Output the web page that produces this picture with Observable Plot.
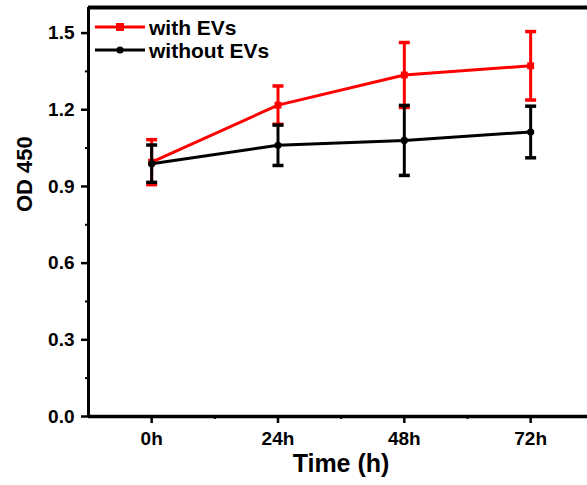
<!DOCTYPE html>
<html><head><meta charset="utf-8">
<script src="https://cdn.jsdelivr.net/npm/d3@7"></script>
<script src="https://cdn.jsdelivr.net/npm/@observablehq/plot@0.6"></script>
<style>
body{margin:0;background:#fff;}
#chart{position:relative;width:587px;height:485px;font-family:"Liberation Sans",Arial,sans-serif;color:#000;}
.legend{position:absolute;left:95px;font-weight:bold;font-size:21px;display:flex;align-items:center;line-height:1;}
.legend svg{display:block;margin-right:4px;}
</style></head><body><div id="chart"></div>
<script>
const times = [0, 24, 48, 72];
const timeLabels = ["0h", "24h", "48h", "72h"];
const withEVs = [0.995, 1.218, 1.336, 1.372];
const withEVsErr = [0.088, 0.075, 0.127, 0.134];
const withoutEVs = [0.989, 1.061, 1.080, 1.113];
const withoutEVsErr = [0.073, 0.079, 0.137, 0.101];
const seriesNames = ["with EVs", "without EVs"];
const colors = ["#ff0000", "#000000"];
const yTicks = [0, 0.3, 0.6, 0.9, 1.2, 1.5];
const yMinor = [0.15, 0.45, 0.75, 1.05, 1.35];
const xMinor = [12, 36, 60];
const xDomain = [-12, 82.8];
const yDomain = [0, 1.6];

const rows = (vals, errs, s) => times.map((t, i) => ({t, v: vals[i], lo: vals[i] - errs[i], hi: vals[i] + errs[i], s}));
const red = rows(withEVs, withEVsErr, seriesNames[0]);
const black = rows(withoutEVs, withoutEVsErr, seriesNames[1]);

const cap = {draw(ctx, size) { const r = Math.sqrt(size / Math.PI); ctx.moveTo(-r, 0); ctx.lineTo(r, 0); }};

function seriesMarks(data, color, symbol, r) {
  return [
    Plot.ruleX(data, {x: "t", y1: "lo", y2: "hi", stroke: color, strokeWidth: 3}),
    Plot.dot(data, {x: "t", y: "hi", symbol: cap, r: 5.5, stroke: color, strokeWidth: 3.5, fill: "none"}),
    Plot.dot(data, {x: "t", y: "lo", symbol: cap, r: 5.5, stroke: color, strokeWidth: 3.5, fill: "none"}),
    Plot.line(data, {x: "t", y: "v", stroke: color, strokeWidth: 3}),
    Plot.dot(data, {x: "t", y: "v", symbol, r, fill: color, stroke: "none"})
  ];
}

const chart = Plot.plot({
  width: 587,
  height: 485,
  marginLeft: 88,
  marginRight: 0,
  marginTop: 7,
  marginBottom: 69,
  style: {fontFamily: '"Liberation Sans", Arial, sans-serif', color: "#000", background: "#fff"},
  x: {domain: xDomain, axis: null},
  y: {domain: yDomain, axis: null},
  marks: [
    Plot.axisY(yTicks, {tickSize: 7, tickPadding: 7, tickFormat: d3.format(".1f"), fontSize: 19, fontWeight: "bold", strokeWidth: 2.5, label: null}),
    Plot.axisY(yMinor, {tickSize: 3, tickFormat: () => "", strokeWidth: 2, label: null}),
    Plot.axisX(times, {tickSize: 7, tickPadding: 8, tickFormat: (d) => timeLabels[times.indexOf(d)], fontSize: 19, fontWeight: "bold", strokeWidth: 2.5, label: null}),
    Plot.axisX(xMinor, {tickSize: 3, tickFormat: () => "", strokeWidth: 2, label: null}),
    Plot.ruleY([yDomain[0]], {strokeWidth: 3.5}),
    Plot.ruleY([yDomain[1]], {strokeWidth: 4}),
    Plot.ruleX([xDomain[0]], {strokeWidth: 3}),
    Plot.text(["OD 450"], {frameAnchor: "left", dx: -64, rotate: -90, fontSize: 22, fontWeight: "bold", fill: "#000"}),
    Plot.text(["Time (h)"], {frameAnchor: "bottom", dx: 3, dy: 55, fontSize: 25, fontWeight: "bold", fill: "#000"}),
    ...seriesMarks(red, colors[0], "square", 3.9),
    ...seriesMarks(black, colors[1], "circle", 3.6)
  ]
});

const container = document.getElementById("chart");
container.appendChild(chart);

const legendTops = [15, 38];
const legendSymbols = ['<rect x="21" y="-4" width="8" height="8"/>', '<circle cx="25" cy="0" r="3.6"/>'];
seriesNames.forEach((name, i) => {
  const div = document.createElement("div");
  div.className = "legend";
  div.style.top = legendTops[i] + "px";
  div.innerHTML = `<svg width="50" height="24" viewBox="0 -12 50 24"><line x1="0" x2="50" y1="0" y2="0" stroke="${colors[i]}" stroke-width="3"/><g fill="${colors[i]}">${legendSymbols[i]}</g></svg><span>${name}</span>`;
  container.appendChild(div);
});
</script>
</body></html>
